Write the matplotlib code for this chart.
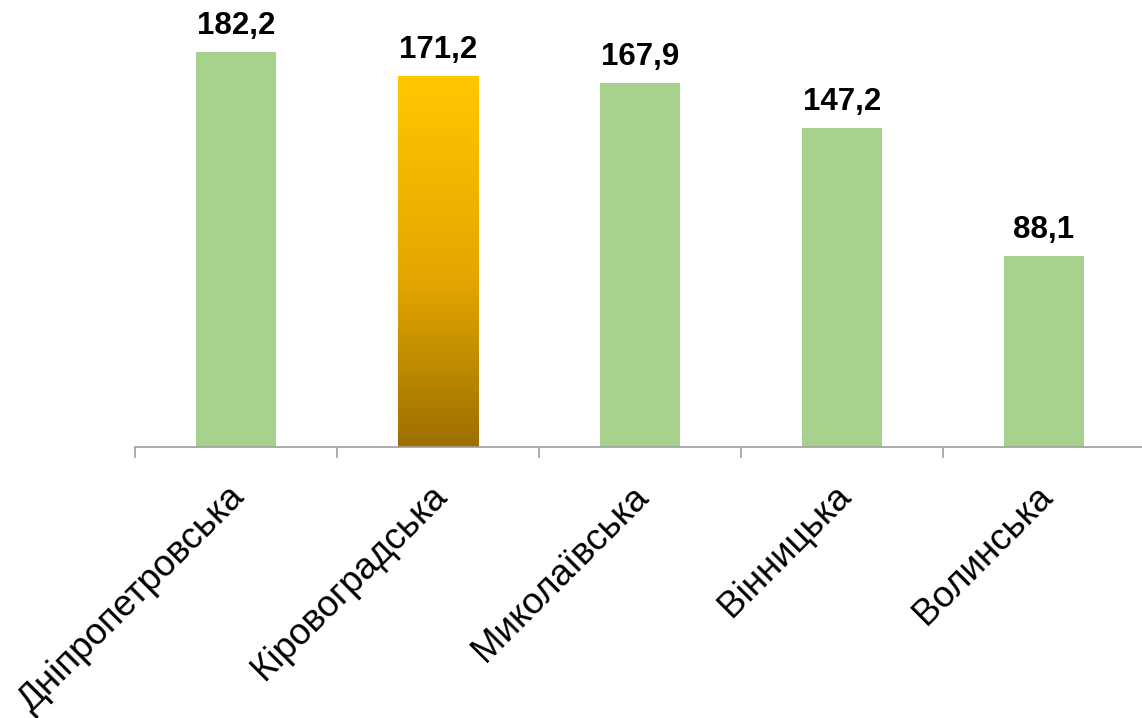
import matplotlib
matplotlib.use("Agg")
import matplotlib.pyplot as plt
import numpy as np
from matplotlib.colors import LinearSegmentedColormap
from matplotlib.transforms import offset_copy

categories = ["Дніпропетровська", "Кіровоградська", "Миколаївська", "Вінницька", "Волинська"]
values = [182.2, 171.2, 167.9, 147.2, 88.1]
value_labels = ["182,2", "171,2", "167,9", "147,2", "88,1"]
highlight = 1

plt.rcParams['font.family'] = ['Liberation Sans', 'DejaVu Sans']

fig = plt.figure(figsize=(11.42, 7.18), dpi=100)
ax = fig.add_axes([135/1142, (718-447)/718, 1010/1142, 433.6/718])

x = np.arange(len(categories))
colors = ['#a9d18e'] * len(categories)
bars = ax.bar(x, values, width=0.4, color=colors, zorder=2)

# gradient for highlighted bar
cmap = LinearSegmentedColormap.from_list('gold', [(0.0, '#9c7000'), (0.45, '#e4a600'), (1.0, '#ffc800')])
b = bars[highlight]
b.set_facecolor('none')
grad = np.linspace(0, 1, 256).reshape(-1, 1)
im = ax.imshow(grad, cmap=cmap, origin='lower', aspect='auto',
               extent=[b.get_x(), b.get_x() + b.get_width(), 0, b.get_height()], zorder=2)
im.set_clip_path(b)

for xi, v, lab in zip(x, values, value_labels):
    ax.annotate(lab, (xi, v), xytext=(0, 8), textcoords='offset points',
                ha='center', va='bottom', fontsize=22.5, fontweight='bold')

ax.set_xlim(-0.5, len(categories) - 0.5)
ax.set_ylim(0, 200)
ax.set_yticks([])
for s in ['top', 'right', 'left']:
    ax.spines[s].set_visible(False)
ax.spines['bottom'].set_color('#a0a0a0')
ax.spines['bottom'].set_linewidth(1.2)

ax.set_xticks(np.arange(-0.5, len(categories), 1.0))
ax.set_xticklabels([])
ax.tick_params(axis='x', which='major', length=8, width=1.2, color='#a0a0a0')
ax.set_xticks(x, minor=True)
ax.tick_params(axis='x', which='minor', length=0)
ax.set_xticklabels(categories, minor=True, rotation=45, ha='right', va='top',
                   rotation_mode='anchor', fontsize=26.5)
for t in ax.get_xticklabels(minor=True):
    t.set_transform(offset_copy(t.get_transform(), fig=fig, x=-9, y=-27, units='dots'))

fig.savefig("out.png", dpi=100)
